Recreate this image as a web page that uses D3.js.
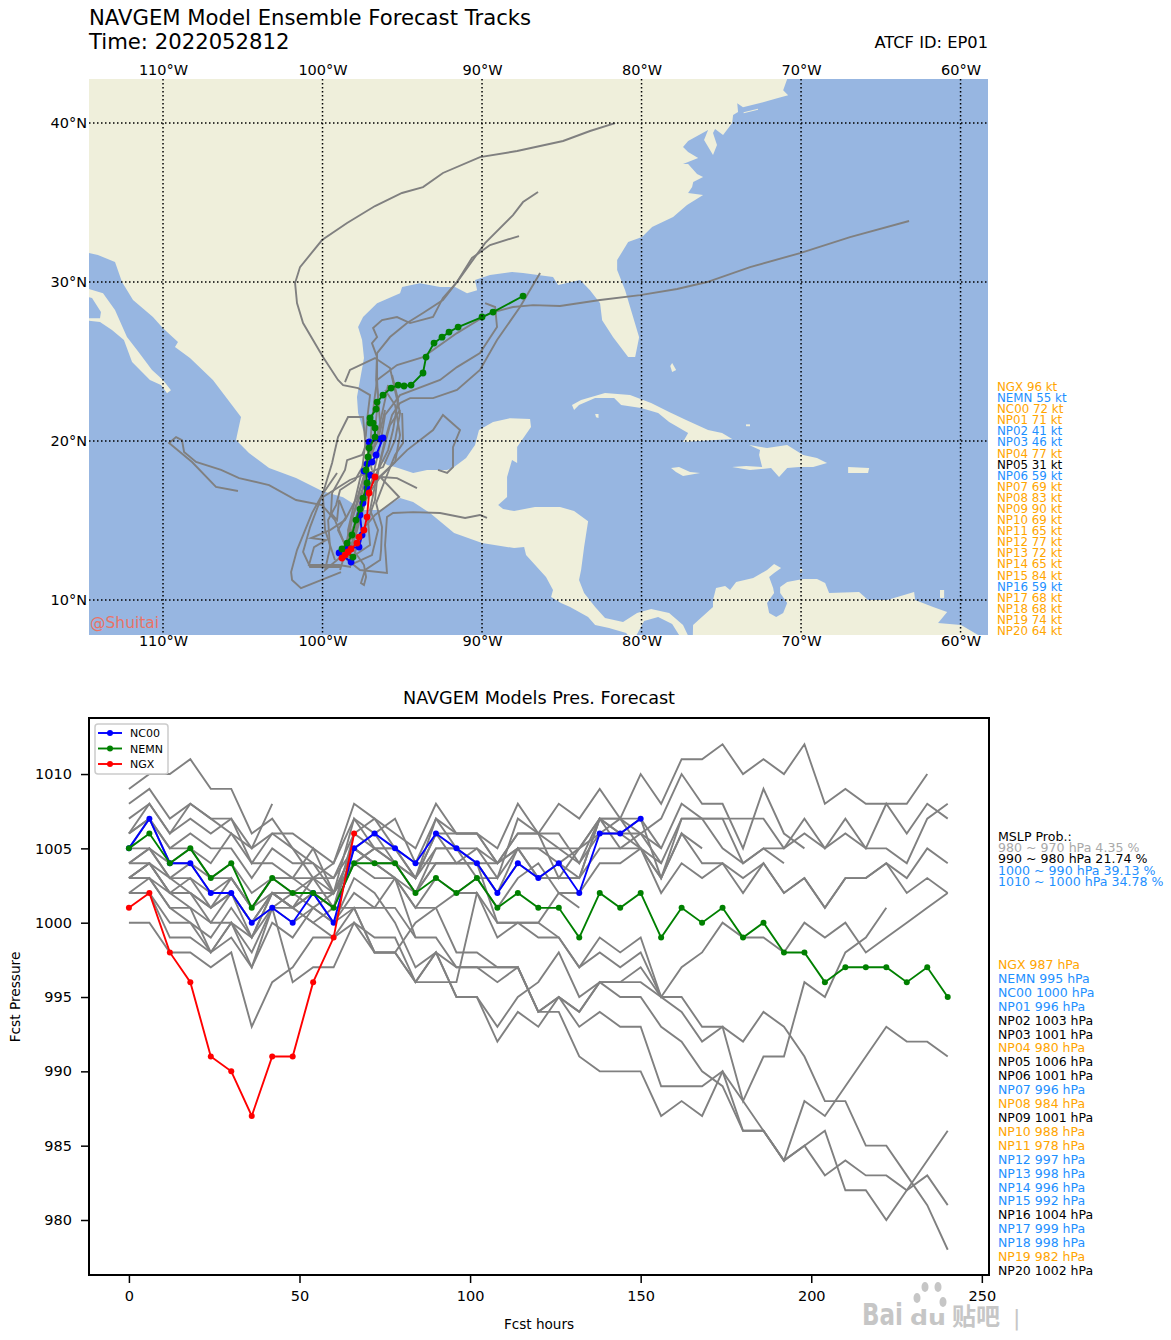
<!DOCTYPE html>
<html>
<head>
<meta charset="utf-8">
<script src="https://cdn.jsdelivr.net/npm/d3@7"></script>
<style>
  body { margin: 0; background: #fff; }
  svg { display: block; font-family: "DejaVu Sans", sans-serif; }
  .axis-text text { font-size: 14.5px; font-family: "DejaVu Sans", sans-serif; fill: #000; }
</style>
</head>
<body>
<div id="chart"></div>
<script>
// land outlines, lon/lat
const mainland = [[-116,31.82],[-114.64,31.82],[-114.08,31.7],[-113.01,31.26],[-112.57,30],[-111.88,28.87],[-110.63,27.8],[-110,27.1],[-109.06,26.23],[-109.25,25.91],[-108.31,25.22],[-106.87,23.84],[-105.11,21.51],[-105.36,20.37],[-105.42,20.06],[-104.61,19.24],[-103.35,18.3],[-101.66,17.67],[-100.03,16.85],[-98.71,16.47],[-97.46,15.66],[-96.39,15.66],[-95.14,16.41],[-94.32,16.16],[-93.26,15.47],[-91.75,14.21],[-90,13.58],[-87.99,13.27],[-87.36,13.33],[-87.24,12.83],[-85.99,11.45],[-85.55,10.63],[-85.67,10.19],[-85.05,9.81],[-84.48,9.56],[-83.35,8.93],[-82.91,8.43],[-82.04,8.24],[-80.97,7.92],[-80.6,7.5],[-80.47,7.5],[-79.84,8.68],[-78.96,8.93],[-78.08,8.49],[-77.46,7.5],[-76.96,7.5],[-77.4,8.43],[-78.27,9.18],[-79.4,9.43],[-80.28,9.18],[-81.16,8.62],[-82.29,8.87],[-82.91,9.56],[-83.6,10.44],[-83.92,11.26],[-83.79,11.89],[-83.6,13.33],[-83.35,14.96],[-84.23,15.6],[-85.11,15.85],[-86.68,15.85],[-87.99,15.6],[-88.68,15.72],[-88.99,15.97],[-88.43,16.48],[-88.43,17.74],[-88.12,18.81],[-87.8,18.62],[-87.8,19.62],[-86.93,20.88],[-86.99,21.38],[-88.24,21.44],[-89.31,21.19],[-90.19,20.69],[-90.44,19.75],[-91,18.93],[-91.75,18.36],[-92.19,18.17],[-93.45,18.17],[-94.32,17.99],[-95.45,18.36],[-95.95,18.49],[-96.58,19],[-97.46,20.69],[-97.77,21.76],[-97.84,22.77],[-97.65,23.84],[-97.4,25.22],[-97.52,26.35],[-97.77,27.17],[-97.46,27.8],[-96.58,28.67],[-95.14,29.3],[-95.01,29.68],[-93.89,29.93],[-92.63,29.68],[-91.69,29.68],[-90.94,29.3],[-90.31,29.49],[-90.44,30.13],[-89.5,30.44],[-88.12,30.63],[-87.43,30.57],[-85.55,30.31],[-85.23,29.81],[-83.85,30.13],[-83.23,29.49],[-82.6,28.67],[-82.47,27.6],[-81.78,26.53],[-80.84,25.28],[-80.4,25.28],[-80.15,26.53],[-80.53,27.8],[-81.03,29.49],[-81.53,30.75],[-81.53,31.38],[-80.84,32.52],[-79.97,32.83],[-79.34,33.46],[-78.02,34.09],[-77.15,34.84],[-76.14,35.47],[-77.08,35.6],[-76.83,35.97],[-76.76,36.29],[-76.14,36.6],[-76.52,36.79],[-77.08,37.42],[-77.4,37.42],[-76.45,37.8],[-77.08,38.18],[-77.4,38.49],[-77.08,38.87],[-75.83,39.56],[-76.08,38.93],[-75.52,37.99],[-75.27,38.62],[-75.52,39.37],[-75.39,39.62],[-74.89,39.25],[-74.32,40],[-74.26,40.5],[-73.95,40.69],[-74,41.25],[-73.64,41],[-72.38,41.31],[-71.5,41.56],[-70.81,41.75],[-71.12,42.07],[-70.87,42.77],[-70.87,43.5],[-116,43.5]];
const baja = [[-115,29.68],[-113.76,29.3],[-113.01,28.24],[-112.26,26.54],[-111.63,25.72],[-110.69,24.47],[-110,23.84],[-109.5,23.2],[-109.75,23],[-110.13,23.52],[-110.82,23.84],[-111.94,24.97],[-112.45,26.35],[-113.2,26.98],[-113.95,27.48],[-115,27.6],[-115,27.73],[-113.95,27.73],[-113.89,28.11],[-114.45,29],[-115,29.11]];
const southAmerica = [[-76.8,7],[-76.77,8.43],[-75.52,9.56],[-75.52,10],[-75.33,10.75],[-74.76,10.88],[-74.45,10.63],[-74.07,11.13],[-73,11.38],[-72.13,11.89],[-71.69,12.26],[-71.25,12.01],[-71.69,11.7],[-72,11.45],[-71.75,10.75],[-71.69,10.44],[-72.13,9.81],[-72,9.18],[-71.56,8.93],[-71.12,9.18],[-70.87,9.81],[-71.31,10.44],[-71.31,10.82],[-70.87,11.13],[-69.87,11.32],[-69,11.32],[-68.49,11.07],[-68.24,10.44],[-66.36,10.5],[-65.8,10],[-64.6,10],[-62.91,10.5],[-62.85,10],[-61.72,9.56],[-60.84,9.25],[-61.41,8.55],[-59.97,8.43],[-58.9,7.8],[-57.8,7.1],[-57.8,7]];
const cuba = [[-84.36,22.26],[-83.79,22.58],[-82.29,23.02],[-80.72,22.89],[-79.4,22.39],[-78.27,21.82],[-77.21,21.32],[-75.83,20.69],[-74.95,20.5],[-74.32,20.12],[-77.4,19.94],[-77.08,20.5],[-78.27,21.19],[-78.96,21.76],[-80.03,22.08],[-81.28,22.26],[-81.72,22.7],[-82.91,22.7],[-83.92,22.26],[-84.23,21.95]];
const isleOfYouth = [[-82.91,21.7],[-82.7,21.7],[-82.7,21.45],[-82.85,21.5]];
const jamaica = [[-78.15,18.3],[-77.65,18.36],[-76.96,18.05],[-76.33,17.99],[-77.4,17.8],[-77.84,18.05]];
const hispaniola = [[-73.26,19.75],[-72.13,19.56],[-70.87,19.75],[-69.87,19.12],[-69,18.93],[-68.37,18.62],[-69.24,18.36],[-70.12,18.36],[-70.87,18.3],[-71.38,17.74],[-71.88,18.3],[-73.2,18.18],[-74.32,18.36],[-73.44,18.43],[-72.44,18.36],[-72.63,19.12],[-72.57,19.43]];
const puertoRico = [[-67.05,18.36],[-65.73,18.3],[-65.8,17.99],[-67.05,17.99]];
const andros = [[-78.08,24.9],[-77.83,24.47],[-78.08,24.34],[-78.2,24.72]];
const inagua = [[-73.45,21.05],[-73.2,21.05],[-73.2,20.93],[-73.45,20.93]];
const longIsland = [[-73.6,40.68],[-72.7,40.9],[-72.7,40.84],[-73.6,40.62]];
const aruba = [[-70.07,11.95],[-69.93,11.95],[-69.93,11.72],[-70.07,11.72]];
const trinidad = [[-61.29,10.63],[-61.03,10.63],[-61.03,10.13],[-61.29,10.13]];
const landShapes = [mainland, baja, southAmerica, cuba, isleOfYouth, jamaica, hispaniola, puertoRico, andros, inagua, longIsland, aruba, trinidad];

// ensemble member tracks, lon/lat
const memberTracks = [
  [[-98.46,12.52],[-98.28,13.77],[-97.77,15.66],[-97.33,17.55],[-97.02,19.43],[-96.9,21.32],[-96.71,22.89],[-96.58,23.84],[-95.33,24.78],[-93.7,25.28],[-91.57,26.79],[-89.5,28.05],[-88.06,28.43],[-86.8,28.55],[-85.11,28.49],[-82.6,28.87],[-80.09,29.18],[-77.77,29.56],[-75.89,30],[-73.2,30.94],[-70.06,31.82],[-66.93,32.83],[-63.23,33.84]],
  [[-98.28,13.14],[-98.4,14.4],[-97.96,16.29],[-97.52,18.18],[-97.33,19.75],[-97.21,21.32],[-97.02,22.89],[-97.77,23.33],[-98.71,23.52],[-99.03,23.84],[-99.97,25.28],[-101.22,27.42],[-101.6,28.68],[-101.72,29.94],[-101.41,30.94],[-100.03,32.64],[-98.46,33.71],[-96.71,34.78],[-95.02,35.6],[-93.7,35.97],[-92.45,36.86],[-90.13,37.86],[-87.8,38.24],[-84.92,38.87],[-83.23,39.5],[-81.66,40]],
  [[-98.59,12.83],[-98.15,15.03],[-97.65,16.92],[-97.02,18.81],[-96.71,20.69],[-96.52,22.58],[-96.58,23.84],[-96.58,25.28],[-96.9,26.16],[-96.58,26.54],[-96.83,27.11],[-96.27,27.61],[-95.33,27.8],[-94.51,27.42],[-93.07,27.8],[-92.45,29],[-91.57,30],[-89.81,32.45],[-88.06,34.21],[-87.43,35.03],[-86.49,35.66]],
  [[-98.71,12.52],[-98.28,14.72],[-97.52,16.92],[-96.9,19.12],[-96.39,21],[-96.52,22.89],[-96.64,23.84],[-96.58,25.53],[-95.77,26.54],[-94.7,27.42],[-93.7,28.05],[-92.45,28.87],[-91.57,30],[-90.63,31.51],[-89.5,32.33],[-87.68,32.89]],
  [[-98.15,13.77],[-97.33,16.29],[-96.52,18.18],[-96.08,20.06],[-95.64,21.64],[-95.14,22.39],[-94.51,22.7],[-93.07,22.7],[-91.57,23.21],[-90.13,24.47],[-89.06,26.35],[-87.62,28.43],[-86.36,30.57]],
  [[-98.28,12.83],[-97.65,15.03],[-96.9,17.55],[-96.39,19.75],[-96.08,21.64],[-95.14,22.89],[-92.63,23.84],[-91.57,24.65],[-90.13,25.53],[-89.06,27.17],[-89.18,28.43],[-89.81,28.68]],
  [[-98.9,11.89],[-98.15,14.4],[-97.15,16.6],[-96.39,17.74],[-94.7,19.43],[-93.07,20.69],[-92.45,21.64],[-91.38,20.69],[-91.82,19.62],[-91.82,18.36],[-92.19,17.99],[-92.76,18.18]],
  [[-98.28,12.52],[-98.59,13.46],[-99.22,15.03],[-100.03,15.97],[-101.66,16.29],[-103.35,17.23],[-105.23,17.67],[-106.36,18.18],[-107.93,18.68],[-108.68,19.31],[-108.81,20.06],[-109.18,20.25],[-109.62,19.87],[-108.18,18.68],[-106.68,17.11],[-105.3,16.86]],
  [[-98.59,12.64],[-97.65,11.89],[-95.96,11.7],[-96.08,13.46],[-95.96,15.22],[-95.58,15.47],[-94.32,15.53],[-92.63,15.47],[-91.06,15.16],[-90.13,15.35],[-89.69,15.16]],
  [[-98.84,11.76],[-101.35,10.75],[-101.91,11.26],[-101.97,11.76],[-101.6,13.14],[-100.66,15.47],[-100.03,16.6],[-99.09,17.99]],
  [[-98.9,12.08],[-100.78,12.08],[-101.22,13.02],[-100.78,14.59],[-99.97,16.73],[-99.4,18.62],[-99.03,20.25],[-98.4,21.51],[-97.46,21.51],[-97.33,20.06],[-96.9,18.18]],
  [[-98.15,12.39],[-97.52,14.4],[-96.71,15.35],[-95.2,16.48],[-96.39,17.74],[-95.33,17.67],[-94.08,17.04]],
  [[-99.22,12.52],[-99.84,14.4],[-99.97,16.48],[-98.28,17.55],[-96.21,18.36],[-95.45,20.06],[-95.14,21.76],[-95.77,24.59],[-96.71,25.22],[-98.28,24.47],[-98.59,23.71]],
  [[-98.28,12.83],[-99.03,14.4],[-98.53,15.22],[-98.96,16.29],[-99.09,15.03],[-99.47,15.47],[-99.4,16.73],[-98.59,18.18],[-98.46,18.8],[-97.52,19.12],[-97.15,20.06]],
  [[-98.15,13.27],[-97.4,12.2],[-97.27,11.45],[-97.4,10.94],[-97.59,11.07],[-97.33,11.89],[-96.39,12.52],[-96.33,13.14],[-96.27,14.59],[-96.64,16.1],[-96.08,17.55],[-95.45,19.12],[-94.95,19.87],[-95.01,21.76]],
  [[-98.21,12.08],[-98.96,12.2],[-100.85,12.2],[-100.53,13.33],[-99.78,13.77],[-100.72,13.9],[-99.53,14.4],[-98.59,15.03],[-97.77,16.6],[-97.02,19.12],[-96.52,20.06],[-96.08,21.95]],
  [[-98.71,12.83],[-99.84,11.89],[-99.53,13.27],[-99.65,15.03],[-99.15,15.97],[-98.9,16.92],[-97.96,17.55],[-96.71,19.75],[-96.08,22.58],[-95.89,23.52]],
  [[-97.96,12.83],[-97.02,13.46],[-97.15,15.03],[-96.71,16.29],[-96.52,18.18],[-95.89,19.43],[-95.58,20.69],[-95.26,22.58],[-95.64,24.15]],
  [[-98.28,12.2],[-96.9,12.83],[-96.52,14.4],[-97.02,15.66],[-96.64,17.55],[-96.27,19.12],[-95.77,21],[-95.14,21.95]],
  [[-98.28,13.14],[-97.77,15.03],[-97.27,16.92],[-96.52,17.67],[-95.45,18.68],[-95.14,20.38],[-95.45,22.26],[-96.08,23.21]]
];
const trackNC00 = [[-98.21,12.39],[-98.96,12.96],[-98.4,13.27],[-97.71,13.33],[-97.52,14.09],[-97.65,15.35],[-97.46,16.1],[-97.21,17.04],[-97.02,17.86],[-97.4,18.11],[-97.21,18.55],[-96.9,18.68],[-96.64,19.12],[-96.21,20.19],[-96.39,20.13],[-97.08,19.94]];
const trackNEMN = [[-98.09,12.7],[-98.78,13.21],[-98.46,13.58],[-98.15,14.09],[-97.9,15.03],[-97.65,15.72],[-97.46,16.41],[-97.21,17.36],[-97.27,18.18],[-97.15,19],[-97.08,19.56],[-96.71,20.25],[-96.71,20.82],[-97.02,21.13],[-96.83,21.13],[-97.02,21.45],[-96.64,22.01],[-96.58,22.45],[-96.21,22.89],[-95.7,23.33],[-95.26,23.52],[-94.89,23.46],[-94.45,23.52],[-93.7,24.28],[-93.51,25.28],[-93.01,26.16],[-92.51,26.53],[-92.07,26.85],[-91.5,27.17],[-90,27.8],[-89.31,28.11],[-87.43,29.12]];
const trackNGX = [[-98.78,12.64],[-98.59,12.83],[-98.4,13.02],[-98.21,13.21],[-97.84,13.58],[-97.71,13.96],[-97.4,14.4],[-97.21,15.22],[-97.08,16.73],[-96.71,17.74]];

const lonTicks = [-110, -100, -90, -80, -70, -60];
const latTicks = [10, 20, 30, 40];

// pressure by forecast step, one value every 6 h
const stepHours = 6;
const presNC00 = [1005,1007,1004,1004,1002,1002,1000,1001,1000,1002,1000,1005,1006,1005,1004,1006,1005,1004,1002,1004,1003,1004,1002,1006,1006,1007];
const presNEMN = [1005,1006,1004,1005,1003,1004,1001,1003,1002,1002,1001,1004,1004,1004,1002,1003,1002,1003,1001,1002,1001,1001,999,1002,1001,1002,999,1001,1000,1001,999,1000,998,998,996,997,997,997,996,997,995];
const presNGX = [1001,1002,998,996,991,990,987,991,991,996,999,1006];
const presMembers = [
  [1009,1010,1010,1011,1009,1009,1006,1007,1005,1003,1004,1008,1007,1006,1005,1008,1006,1006,1005,1008,1006,1008,1007,1009,1007,1010,1008,1011,1011,1012,1010,1011,1010,1012,1008,1009,1008,1008,1008,1010],
  [1008,1009,1007,1008,1007,1007,1005,1006,1006,1005,1004,1007,1006,1007,1004,1007,1005,1005,1003,1007,1006,1005,1005,1007,1007,1006,1007,1010,1008,1008,1005,1009,1006,1005],
  [1007,1008,1006,1007,1006,1007,1004,1006,1005,1004,1003,1006,1007,1005,1003,1006,1004,1005,1004,1006,1006,1003,1005,1007,1005,1006,1005,1008,1007,1005,1004,1005,1005,1007,1005,1007,1005,1008,1006,1008,1007],
  [1006,1007,1005,1006,1005,1005,1003,1005,1004,1004,1002,1005,1006,1004,1002,1005,1005,1003,1003,1005,1005,1004,1005,1006,1007,1005,1004,1007,1007,1007,1007,1007,1005,1006,1005,1006,1005,1005,1004,1007,1008],
  [1005,1007,1004,1005,1004,1006,1004,1004,1003,1005,1002,1007,1005,1005,1003,1007,1006,1006,1004,1006,1006,1006,1004,1007,1006,1005,1003,1007,1007,1007,1004,1005,1004],
  [1004,1005,1003,1004,1003,1003,1001,1003,1003,1002,1002,1005,1004,1003,1002,1004,1004,1004,1002,1005,1003,1003,1003,1005,1005,1005,1003,1006,1004,1004,1003,1004,1002,1003,1001,1003,1003,1004,1003,1005,1004],
  [1003,1004,1002,1003,1002,1002,1000,1002,1002,1001,1002,1004,1003,1003,1001,1003,1002,1003,1001,1003,1004,1002,1002,1004,1004,1005,1002,1004,1003,1004,1002,1004,1002,1003,1001,1003,1003,1004,1002,1003,1002],
  [1003,1003,1002,1001,1000,1002,999,1002,1001,1003,1001,1005,1004,1003,999],
  [1006,1008,1006,1008,1007,1006,1005,1008],
  [1000,1000,998,998,997,998,993,996,997,999,999,1000,999,999,996,996,996,1002,1000,1000,1000,999,997,999,998,999,995,997,998,1000,999,999,998,1000,999,1000,998,999,1000,1001,1002],
  [1002,1002,1000,1000,999,1001,999,1001,1000,1001,1000,1001,1001,1003,1001,1001,998,998,997,997,994,995,994,996,996,996,995,995,993,993,992,994,993,991,988,988,985,985,983,981,978],
  [1003,1003,1001,1000,998,1000,998,1001,1001,1000,999,1001,998,998,996,998,995,995,992,994,993,995,994,996,995,995,993,992,990,989,986,986,984,988,987,989,991,993,992,992,991],
  [1004,1004,1002,1002,1000,1000,999,1002,1001,1002,1000,1002,1001,1001,999,999,997,997,997,997,994,995,993,994,993,993,989,989,989,990,986,986,984,985,986,982,982,980,982,984,986],
  [1002,1003,1001,1001,998,1000,997,1000,999,1001,1000,1003,1002,1000,997,998,997,997,996,997,994,994,991,990,990,990,987,988,987,990,988,986,984,985,983,984,983,983,982,983,981],
  [1003,1004,1003,1002,1001,1002,1000,1001,1002,1002,1001,1001,998,998,996,998,995,995,993,995,996,998,995,996,996,997,995,994,992,993,988,991,991,996,995,998,999,1001],
  [1006,1007,1005,1005,1003,1004,1002,1003,1003,1003,1002,1004,1005,1004,1003,1005,1005,1004,1002,1004,1003,1004,1003,1007,1006,1007,1003,1006,1005],
  [1002,1002,999,999,998,999,997,1001,996,997,997,1000,998,998,1000,1001,1002,1002,999,1000,999,999,997,998,997,998,995],
  [1005,1005,1003,1003,1001,1003,1001,1002,1001,1002,1001,1006,1005,1004,1002,1004,1004,1004,1000,1000,1000,1002,1001],
  [1004,1005,1004,1004,1002,1003,1001,1003,1002,1003,1003,1005,1004,1004,1003,1006,1006,1006,1004,1005,1003,1003,1003,1007,1007,1007,1005],
  [1003,1004,1002,1002,1001,1002,1000,1002,1001,1000,1001,1004,1005,1005,1004,1004,1004,1004,1004,1005,1005,1005,1004,1006,1006,1006,1004]
];
const hourTicks = [0, 50, 100, 150, 200, 250];
const presTicks = [980, 985, 990, 995, 1000, 1005, 1010];

// side lists
const windNames = ['NGX','NEMN','NC00','NP01','NP02','NP03','NP04','NP05','NP06','NP07','NP08','NP09','NP10','NP11','NP12','NP13','NP14','NP15','NP16','NP17','NP18','NP19','NP20'];
const windValues = [96,55,72,71,41,46,77,31,59,69,83,90,69,65,77,72,65,84,59,68,68,74,64];
const finalPres = [987,995,1000,996,1003,1001,980,1006,1001,996,984,1001,988,978,997,998,996,992,1004,999,998,982,1002];
const probRanges = ['980 ~ 970 hPa 4.35 %','990 ~ 980 hPa 21.74 %','1000 ~ 990 hPa 39.13 %','1010 ~ 1000 hPa 34.78 %'];
const probColors = ['darkgray','black','dodgerblue','dodgerblue'];

const W = 1171;
const H = 1340;
const map = { left: 89, right: 988, top: 79, bottom: 635 };
const plot = { left: 89, right: 989, top: 718, bottom: 1275 };

const svg = d3.select('#chart').append('svg')
  .attr('width', W)
  .attr('height', H)
  .attr('viewBox', `0 0 ${W} ${H}`);

// ---- map panel
const xMap = d3.scaleLinear().domain([-114.64, -58.28]).range([map.left, map.right]);
const yMap = d3.scaleLinear().domain([7.8, 42.77]).range([map.bottom, map.top]);
const pathGen = d3.geoPath(d3.geoTransform({
  point(lon, lat) { this.stream.point(xMap(lon), yMap(lat)); }
}));

svg.append('clipPath').attr('id', 'map-clip')
  .append('rect')
  .attr('x', map.left).attr('y', map.top)
  .attr('width', map.right - map.left).attr('height', map.bottom - map.top);

const mapG = svg.append('g').attr('clip-path', 'url(#map-clip)');
mapG.append('rect')
  .attr('x', map.left).attr('y', map.top)
  .attr('width', map.right - map.left).attr('height', map.bottom - map.top)
  .attr('fill', '#97b6e1');

mapG.selectAll('path.land')
  .data(landShapes)
  .join('path')
  .attr('class', 'land')
  .attr('fill', '#efefdb')
  .attr('d', d => pathGen({ type: 'Polygon', coordinates: [[...d, d[0]]] }));

const trackLine = d3.line().x(d => xMap(d[0])).y(d => yMap(d[1]));

mapG.selectAll('path.member')
  .data(memberTracks)
  .join('path')
  .attr('class', 'member')
  .attr('fill', 'none')
  .attr('stroke', 'gray')
  .attr('stroke-width', 1.9)
  .attr('d', trackLine);

[[trackNC00, 'blue'], [trackNEMN, 'green'], [trackNGX, 'red']].forEach(([track, color]) => {
  mapG.append('path')
    .attr('fill', 'none')
    .attr('stroke', color)
    .attr('stroke-width', 1.9)
    .attr('d', trackLine(track));
  mapG.selectAll(null)
    .data(track)
    .join('circle')
    .attr('cx', d => xMap(d[0]))
    .attr('cy', d => yMap(d[1]))
    .attr('r', 3.4)
    .attr('fill', color);
});

// dotted graticule
mapG.selectAll('line.lon')
  .data(lonTicks)
  .join('line')
  .attr('x1', d => xMap(d)).attr('x2', d => xMap(d))
  .attr('y1', map.top).attr('y2', map.bottom)
  .attr('stroke', '#000').attr('stroke-width', 1.5).attr('stroke-dasharray', '1.5 2.5');
mapG.selectAll('line.lat')
  .data(latTicks)
  .join('line')
  .attr('x1', map.left).attr('x2', map.right)
  .attr('y1', d => yMap(d)).attr('y2', d => yMap(d))
  .attr('stroke', '#000').attr('stroke-width', 1.5).attr('stroke-dasharray', '1.5 2.5');

const lonFormat = d => `${Math.abs(d)}°W`;
const latFormat = d => `${d}°N`;

svg.append('g').attr('class', 'axis-text')
  .attr('transform', `translate(0,${map.top})`)
  .call(d3.axisTop(xMap).tickValues(lonTicks).tickFormat(lonFormat).tickSize(0).tickPadding(4))
  .call(g => g.select('.domain').remove());
svg.append('g').attr('class', 'axis-text')
  .attr('transform', `translate(0,${map.bottom})`)
  .call(d3.axisBottom(xMap).tickValues(lonTicks).tickFormat(lonFormat).tickSize(0).tickPadding(1))
  .call(g => g.select('.domain').remove());
svg.append('g').attr('class', 'axis-text')
  .attr('transform', `translate(${map.left},0)`)
  .call(d3.axisLeft(yMap).tickValues(latTicks).tickFormat(latFormat).tickSize(0).tickPadding(2))
  .call(g => g.select('.domain').remove());

svg.append('text').attr('x', 89).attr('y', 25).attr('font-size', 21.2)
  .text('NAVGEM Model Ensemble Forecast Tracks');
svg.append('text').attr('x', 89).attr('y', 48.5).attr('font-size', 21.2)
  .text('Time: 2022052812');
svg.append('text').attr('x', 988).attr('y', 48).attr('text-anchor', 'end').attr('font-size', 16.3)
  .text('ATCF ID: EP01');
svg.append('text').attr('x', 90).attr('y', 628).attr('font-size', 15.5)
  .attr('fill', 'tomato').attr('opacity', 0.8).text('@Shuitai');

// wind list
const windColor = v => v >= 64 ? 'orange' : v >= 34 ? 'dodgerblue' : 'black';
const windRow = d3.scaleLinear().domain([0, windNames.length - 1]).range([391, 635]);
svg.selectAll('text.wind')
  .data(windNames)
  .join('text')
  .attr('class', 'wind')
  .attr('x', 997)
  .attr('y', (d, i) => windRow(i))
  .attr('font-size', 11.85)
  .attr('fill', (d, i) => windColor(windValues[i]))
  .text((d, i) => `${d} ${windValues[i]} kt`);

// ---- pressure panel
const xPres = d3.scaleLinear().domain([-11.7, 252.1]).range([plot.left, plot.right]);
const yPres = d3.scaleLinear().domain([976.3, 1013.77]).range([plot.bottom, plot.top]);
const presLine = d3.line().x((d, i) => xPres(i * stepHours)).y(d => yPres(d));

svg.append('text').attr('x', 539).attr('y', 704).attr('text-anchor', 'middle').attr('font-size', 17.6)
  .text('NAVGEM Models Pres. Forecast');

svg.append('g').selectAll('path')
  .data(presMembers)
  .join('path')
  .attr('fill', 'none')
  .attr('stroke', 'gray')
  .attr('stroke-width', 1.9)
  .attr('d', presLine);

const mainSeries = [['NC00', presNC00, 'blue'], ['NEMN', presNEMN, 'green'], ['NGX', presNGX, 'red']];
mainSeries.forEach(([name, values, color]) => {
  svg.append('path')
    .attr('fill', 'none')
    .attr('stroke', color)
    .attr('stroke-width', 1.9)
    .attr('d', presLine(values));
  svg.selectAll(null)
    .data(values)
    .join('circle')
    .attr('cx', (d, i) => xPres(i * stepHours))
    .attr('cy', d => yPres(d))
    .attr('r', 3)
    .attr('fill', color);
});

svg.append('rect')
  .attr('x', plot.left).attr('y', plot.top)
  .attr('width', plot.right - plot.left).attr('height', plot.bottom - plot.top)
  .attr('fill', 'none').attr('stroke', '#000').attr('stroke-width', 2);

const xAxis = svg.append('g').attr('class', 'axis-text')
  .attr('transform', `translate(0,${plot.bottom})`)
  .call(d3.axisBottom(xPres).tickValues(hourTicks).tickSize(8).tickPadding(8));
const yAxis = svg.append('g').attr('class', 'axis-text')
  .attr('transform', `translate(${plot.left},0)`)
  .call(d3.axisLeft(yPres).tickValues(presTicks).tickFormat(d3.format('d')).tickSize(8).tickPadding(9));
[xAxis, yAxis].forEach(a => {
  a.select('.domain').remove();
  a.selectAll('line').attr('stroke', '#000').attr('stroke-width', 1.5);
});

svg.append('text').attr('x', 539).attr('y', 1329).attr('text-anchor', 'middle').attr('font-size', 13.6)
  .text('Fcst hours');
svg.append('text').attr('transform', 'translate(19.5,997) rotate(-90)').attr('text-anchor', 'middle').attr('font-size', 13.7)
  .text('Fcst Pressure');

// legend
const legend = svg.append('g');
legend.append('rect')
  .attr('x', 95).attr('y', 724).attr('width', 73).attr('height', 50).attr('rx', 3)
  .attr('fill', '#fff').attr('fill-opacity', 0.8).attr('stroke', '#ccc').attr('stroke-width', 1.5);
const legendRow = d3.scaleLinear().domain([0, 2]).range([733, 764]);
mainSeries.forEach(([name, values, color], i) => {
  legend.append('line')
    .attr('x1', 98).attr('x2', 122).attr('y1', legendRow(i)).attr('y2', legendRow(i))
    .attr('stroke', color).attr('stroke-width', 1.9);
  legend.append('circle').attr('cx', 110).attr('cy', legendRow(i)).attr('r', 3).attr('fill', color);
  legend.append('text').attr('x', 130).attr('y', legendRow(i) + 4).attr('font-size', 11).text(name);
});

// MSLP probabilities
svg.append('text').attr('x', 998).attr('y', 841).attr('font-size', 12.6).text('MSLP Prob.:');
const probRow = d3.scaleLinear().domain([0, probRanges.length - 1]).range([852, 886]);
svg.selectAll('text.prob')
  .data(probRanges)
  .join('text')
  .attr('class', 'prob')
  .attr('x', 998)
  .attr('y', (d, i) => probRow(i))
  .attr('font-size', 12.6)
  .attr('fill', (d, i) => probColors[i])
  .text(d => d);

// final pressure list
const presColor = v => v < 990 ? 'orange' : v <= 1000 ? 'dodgerblue' : 'black';
const presRow = d3.scaleLinear().domain([0, windNames.length - 1]).range([969, 1275]);
svg.selectAll('text.final')
  .data(windNames)
  .join('text')
  .attr('class', 'final')
  .attr('x', 998)
  .attr('y', (d, i) => presRow(i))
  .attr('font-size', 12.5)
  .attr('fill', (d, i) => presColor(finalPres[i]))
  .text((d, i) => `${d} ${finalPres[i]} hPa`);

// faint site watermark in the bottom corner
const mark = svg.append('g').attr('fill', '#c6c6c6');
mark.append('text').attr('x', 862).attr('y', 1325).attr('font-size', 30).attr('font-weight', 'bold')
  .attr('textLength', 41).attr('lengthAdjust', 'spacingAndGlyphs').text('Bai');
[[925, 1287, 3.5, 5], [938, 1287, 3.5, 5], [917, 1298, 3.5, 5], [943, 1302, 3.5, 5]].forEach(([cx, cy, rx, ry]) => {
  mark.append('ellipse').attr('cx', cx).attr('cy', cy).attr('rx', rx).attr('ry', ry);
});
mark.append('text').attr('x', 910).attr('y', 1325).attr('font-size', 22).attr('font-weight', 'bold')
  .attr('textLength', 36).attr('lengthAdjust', 'spacingAndGlyphs').text('du');
mark.append('text').attr('x', 952).attr('y', 1325).attr('font-size', 24)
  .attr('font-family', '"Noto Sans CJK SC"').attr('font-weight', 'bold').text('贴吧');
mark.append('text').attr('x', 1013).attr('y', 1325).attr('font-size', 22).text('|');
</script>
</body>
</html>
